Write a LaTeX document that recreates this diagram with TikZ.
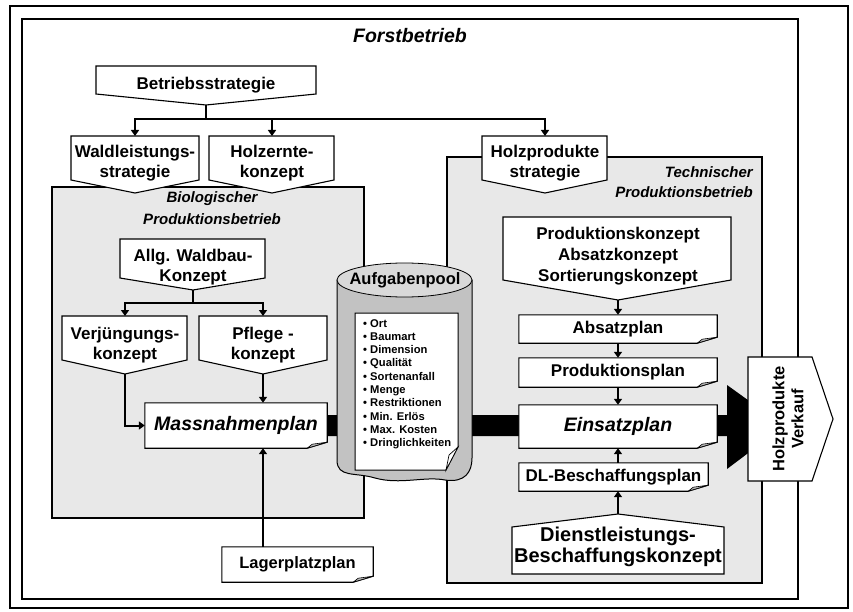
\documentclass[tikz,border=0pt]{standalone}
\usepackage{fontspec}
\setmainfont{Liberation Sans}
\usetikzlibrary{arrows.meta,calc}
\pgfdeclarelayer{back}
\pgfdeclarelayer{docs}
\pgfsetlayers{back,docs,main}
\definecolor{boxgray}{gray}{0.91}
\definecolor{cylgray}{gray}{0.76}
\definecolor{ellgray}{gray}{0.85}
\definecolor{foldgray}{gray}{0.72}
\begin{document}
\begin{tikzpicture}[x=1pt,y=-1pt,
 frame/.style={draw, line width=1.6pt},
 grayarea/.style={draw, fill=boxgray, line width=1.1pt},
 shp/.style={draw, fill=white, line width=1.1pt, line join=miter},
 lbl/.style={font=\fontsize{17}{20.5}\selectfont\bfseries, align=center, inner sep=0pt},
 bigit/.style={font=\fontsize{19.5}{23}\selectfont\bfseries\itshape},
 ital/.style={font=\fontsize{15}{22}\selectfont\bfseries\itshape, inner sep=0pt},
 arr/.style={line width=2pt, -{Triangle[length=6pt,width=8pt]}},
 ln/.style={line width=2pt},
 bul/.style={font=\fontsize{11.2}{13.3}\selectfont\bfseries, align=left, inner sep=0pt}
]
\useasboundingbox (0,0) rectangle (853,612);

\begin{pgfonlayer}{back}
\draw[frame] (10,6) rectangle (848,608);
\draw[frame] (22,19) rectangle (798,599);
\draw[grayarea] (52,187) rectangle (364,518);
\draw[grayarea] (447,157) rectangle (762,583);
\fill (327,415) -- (727,415) -- (727,385) -- (784,426) -- (727,469) -- (727,436) -- (327,436) -- cycle;
\end{pgfonlayer}

% titles
\node[font=\fontsize{19.5}{23}\selectfont\bfseries\itshape, inner sep=0pt] (forst) at (410,36) {Forstbetrieb};
\node[ital, align=center] (bio) at (212,208) {Biologischer\\Produktionsbetrieb};
\node[ital, font=\fontsize{15}{20}\selectfont\bfseries\itshape, align=right, anchor=east] (tech) at (753,182) {Technischer\\Produktionsbetrieb};

% pentagons (down)
\draw[shp] (96,66) -- (316,66) -- (316,94) -- (206,105) -- (96,94) -- cycle;
\node[lbl] (betr) at (206,85) {Betriebsstrategie};
\coordinate (betr-tip) at (206,105);
\coordinate (bus1) at (206,119);

\draw[shp] (71,136) -- (199,136) -- (199,180) -- (135,193) -- (71,180) -- cycle;
\node[lbl] (wald) at (135,163) {Waldleistungs-\\strategie};
\coordinate (wald-top) at (135,136);

\draw[shp] (209,136) -- (334,136) -- (334,180) -- (272,193) -- (209,180) -- cycle;
\node[lbl] (holz) at (272,163) {Holzernte-\\konzept};
\coordinate (holz-top) at (272,136);

\draw[shp] (482,136) -- (607,136) -- (607,180) -- (545,193) -- (482,180) -- cycle;
\node[lbl] (hp) at (545,163) {Holzprodukte\\strategie};
\coordinate (hp-top) at (545,136);

\draw[shp] (120,239) -- (265,239) -- (265,278) -- (193,290) -- (120,278) -- cycle;
\node[lbl] (allg) at (193,267) {Allg. Waldbau-\\Konzept};
\coordinate (allg-tip) at (193,290);
\coordinate (bus2) at (193,303);

\draw[shp] (62,316) -- (187,316) -- (187,360) -- (125,374) -- (62,360) -- cycle;
\node[lbl] (verj) at (125,345) {Verjüngungs-\\konzept};
\coordinate (verj-top) at (125,316);
\coordinate (verj-tip) at (125,374);

\draw[shp] (199,316) -- (327,316) -- (327,360) -- (263,374) -- (199,360) -- cycle;
\node[lbl] (pflege) at (263,345) {Pflege -\\konzept};
\coordinate (pflege-top) at (263,316);
\coordinate (pflege-tip) at (263,374);

\draw[shp] (503,217) -- (731,217) -- (731,280) -- (618,300) -- (503,280) -- cycle;
\node[lbl, font=\fontsize{17}{21}\selectfont\bfseries] (pk) at (618,256) {Produktionskonzept\\Absatzkonzept\\Sortierungskonzept};
\coordinate (pk-tip) at (618,300);

% pentagon (up)
\draw[shp] (512,574) -- (724,574) -- (724,527) -- (618,514) -- (512,527) -- cycle;
\node[lbl, font=\fontsize{20}{21}\selectfont\bfseries] (dienst) at (618,547) {Dienstleistungs-\\Beschaffungskonzept};
\coordinate (dienst-tip) at (618,514);

% cylinder
\draw[line width=1pt, fill=cylgray] (337,280) -- (337,460) .. controls (337,478) and (355,472) .. (375,478) .. controls (400,485) and (425,476) .. (445,480) .. controls (465,483) and (472,472) .. (472,458) -- (472,280) -- cycle;
\draw[line width=0.8pt, fill=ellgray] (404.5,280) ellipse [x radius=67.5pt, y radius=17pt];
\node[font=\fontsize{16.5}{18}\selectfont\bfseries, inner sep=0pt] (pool) at (405,280) {Aufgabenpool};
\draw[line width=1pt, fill=white] (355,313) -- (458,313) -- (458,447) -- (446,470) -- (355,470) -- cycle;
\draw[line width=0.7pt, fill=white] (458,447) -- (449,455) -- (446,470) -- cycle;
\node[bul, anchor=north west] (list) at (363,319) {\textbullet\ Ort\\\textbullet\ Baumart\\\textbullet\ Dimension\\\textbullet\ Qualität\\\textbullet\ Sortenanfall\\\textbullet\ Menge\\\textbullet\ Restriktionen\\\textbullet\ Min. Erlös\\\textbullet\ Max. Kosten\\\textbullet\ Dringlichkeiten};

% document boxes (text)
\node[lbl, bigit, minimum width=182, minimum height=45] (massn) at (236,425.5) {Massnahmenplan};
\node[lbl, font=\fontsize{16.5}{20}\selectfont\bfseries, minimum width=151, minimum height=35] (lager) at (297.5,564.5) {Lagerplatzplan};
\node[lbl, minimum width=198, minimum height=28] (absatz) at (618,329) {Absatzplan};
\node[lbl, minimum width=198, minimum height=29] (prod) at (618,372.5) {Produktionsplan};
\node[lbl, bigit, minimum width=198, minimum height=43] (einsatz) at (618,426.5) {Einsatzplan};
\node[lbl, minimum width=189, minimum height=28] (dl) at (613.5,477) {DL-Beschaffungsplan};

\begin{pgfonlayer}{docs}
\foreach \n in {massn,lager,absatz,prod,einsatz,dl}{
  \draw[shp] (\n.north west) -- (\n.north east) -- ([yshift=6pt]\n.south east) -- ([xshift=-20pt]\n.south east) -- (\n.south west) -- cycle;
  \draw[line width=0.6pt, fill=foldgray] ([yshift=6pt]\n.south east) -- ([xshift=-20pt]\n.south east) -- ([xshift=-15pt,yshift=4pt]\n.south east) -- cycle;
}
\end{pgfonlayer}

% Verkauf
\draw[shp] (748,357) -- (812,357) -- (833,419) -- (812,481) -- (748,481) -- cycle;
\node[lbl, font=\fontsize{16.5}{19}\selectfont\bfseries, rotate=90] (verkauf) at (788,419) {Holzprodukte\\Verkauf};

% connectors
\draw[ln] (betr-tip) -- (bus1);
\draw[arr] (bus1) -| (wald-top);
\draw[arr] (bus1) -| (holz-top);
\draw[arr] (bus1) -| (hp-top);
\draw[ln] (allg-tip) -- (bus2);
\draw[arr] (bus2) -| (verj-top);
\draw[arr] (bus2) -| (pflege-top);
\draw[arr] (verj-tip) |- (massn.west);
\draw[arr] (pflege-tip) -- (pflege-tip |- massn.north);
\draw[arr] (pflege-tip |- lager.north) -- (pflege-tip |- massn.south);
\draw[arr] (pk-tip) -- (pk-tip |- absatz.north);
\draw[arr] (absatz.south) -- (prod.north);
\draw[arr] (prod.south) -- (einsatz.north);
\draw[arr] (einsatz.south |- dl.north) -- (einsatz.south);
\draw[arr] (dienst-tip) -- (dienst-tip |- dl.south);
\end{tikzpicture}
\end{document}
